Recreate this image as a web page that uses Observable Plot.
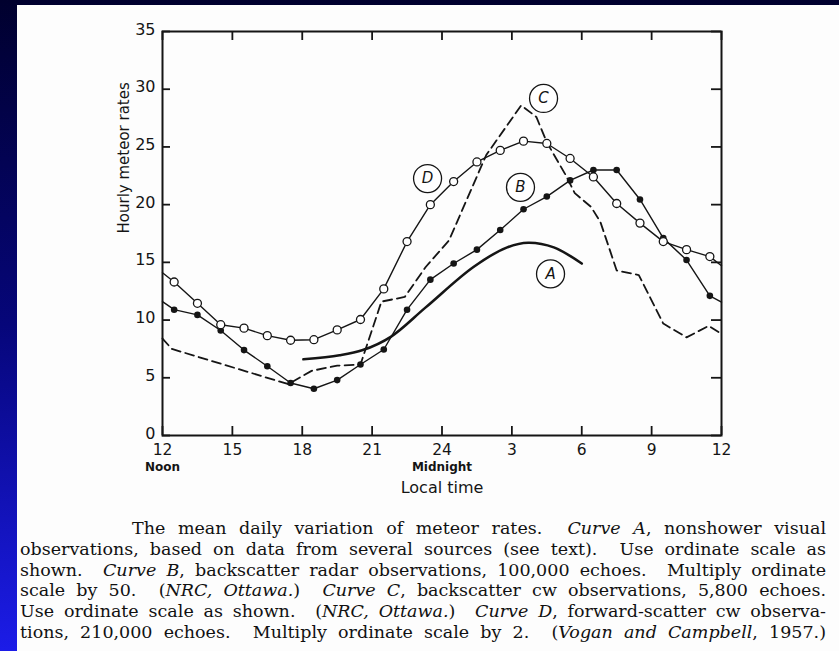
<!DOCTYPE html>
<html>
<head>
<meta charset="utf-8">
<script src="https://cdn.jsdelivr.net/npm/d3@7"></script>
<script src="https://cdn.jsdelivr.net/npm/@observablehq/plot@0.6"></script>
<style>
  html, body { margin: 0; padding: 0; }
  body {
    width: 839px; height: 651px; overflow: hidden; position: relative;
    background: linear-gradient(to bottom, #00002e 0%, #06067a 50%, #1c1ce8 100%);
  }
  .page { position: absolute; left: 17px; top: 5px; width: 822px; height: 646px; background: #fdfdfd; }
  #chart { position: absolute; left: 0; top: 0; }
  #caption {
    position: absolute; left: 20px; top: 518px; width: 806px;
    font-family: "DejaVu Serif", serif; font-size: 17.5px; color: #111;
  }
  #caption div { height: 20.8px; line-height: 20.8px; white-space: nowrap; }
  #caption div.first { padding-left: 112px; }
</style>
</head>
<body>
<div class="page"></div>
<div id="chart"></div>
<div id="caption">
  <div class="first"><span>The mean daily variation of meteor rates.&nbsp; <i>Curve A</i>, nonshower visual</span></div>
  <div><span>observations, based on data from several sources (see text).&nbsp; Use ordinate scale as</span></div>
  <div><span>shown.&nbsp; <i>Curve B</i>, backscatter radar observations, 100,000 echoes.&nbsp; Multiply ordinate</span></div>
  <div><span>scale by 50.&nbsp; (<i>NRC, Ottawa.</i>)&nbsp; <i>Curve C</i>, backscatter cw observations, 5,800 echoes.</span></div>
  <div><span>Use ordinate scale as shown.&nbsp; (<i>NRC, Ottawa.</i>)&nbsp; <i>Curve D</i>, forward-scatter cw observa-</span></div>
  <div><span>tions, 210,000 echoes.&nbsp; Multiply ordinate scale by 2.&nbsp; (<i>Vogan and Campbell</i>, 1957.)</span></div>
</div>
<script>
// ---- Data (hours counted from noon: 12 = noon, 24 = midnight, 36 = noon next day) ----
const curveAHours = [18.05, 19.6, 20.6, 21.8, 23.3, 25.35, 26.8, 27.7, 28.8, 30.0];
const curveARates = [6.6, 6.95, 7.4, 8.55, 11.1, 14.6, 16.3, 16.7, 16.3, 14.9];

const curveBHours = [12, 12.5, 13.5, 14.5, 15.5, 16.5, 17.5, 18.5, 19.5, 20.5, 21.5, 22.5, 23.5, 24.5, 25.5, 26.5, 27.5, 28.5, 29.5, 30.5, 31.5, 32.5, 33.5, 34.5, 35.5, 36];
const curveBRates = [11.6, 10.9, 10.45, 9.1, 7.4, 6.0, 4.55, 4.05, 4.8, 6.15, 7.45, 10.9, 13.5, 14.9, 16.1, 17.8, 19.6, 20.7, 22.1, 23.0, 23.0, 20.45, 17.1, 15.2, 12.1, 11.55];

const curveCHours = [12, 12.4, 17.4, 18.4, 19.5, 20.5, 21.4, 22.4, 23.3, 24.3, 25.9, 27.4, 28.05, 28.5, 29.3, 29.7, 30.4, 30.8, 31.5, 32.45, 33.5, 34.5, 35.45, 36];
const curveCRates = [8.4, 7.5, 4.45, 5.6, 6.05, 6.15, 11.6, 12.0, 14.6, 16.9, 24.3, 28.6, 27.6, 25.4, 22.6, 21.0, 19.8, 18.5, 14.3, 13.9, 9.7, 8.5, 9.5, 8.8];

const curveDHours = [12, 12.5, 13.5, 14.5, 15.5, 16.5, 17.5, 18.5, 19.5, 20.5, 21.5, 22.5, 23.5, 24.5, 25.5, 26.5, 27.5, 28.5, 29.5, 30.5, 31.5, 32.5, 33.5, 34.5, 35.5, 36];
const curveDRates = [14.1, 13.3, 11.45, 9.6, 9.3, 8.65, 8.25, 8.3, 9.15, 10.05, 12.7, 16.8, 20.0, 22.0, 23.7, 24.7, 25.5, 25.3, 24.0, 22.4, 20.1, 18.4, 16.8, 16.1, 15.5, 14.7];

const labelNames = ["A", "B", "C", "D"];
const labelHours = [28.66, 27.37, 28.36, 23.38];
const labelRates = [14.0, 21.5, 29.2, 22.26];

const xTicks = [12, 15, 18, 21, 24, 27, 30, 33, 36];
const xTickLabels = ["12", "15", "18", "21", "24", "3", "6", "9", "12"];
const yTicks = [0, 5, 10, 15, 20, 25, 30, 35];
const subLabelHours = [12, 24];
const subLabels = ["Noon", "Midnight"];
const xTitle = "Local time";
const yTitle = "Hourly meteor rates";

// ---- Build tables ----
const rows = (hs, vs) => hs.map((h, i) => ({h, v: vs[i]}));
const A = rows(curveAHours, curveARates);
const B = rows(curveBHours, curveBRates);
const C = rows(curveCHours, curveCRates);
const D = rows(curveDHours, curveDRates);
const inner = (r) => r.slice(1, -1);
const labels = labelNames.map((n, i) => ({n, h: labelHours[i], v: labelRates[i]}));
const subs = subLabels.map((s, i) => ({s, h: subLabelHours[i]}));

const W = 839, H = 512;
const mL = 162, mR = 118, mT = 31, mB = H - 435;
const pw = W - mL - mR, ph = H - mT - mB;
const ink = "#151515";
const sans = "DejaVu Sans, sans-serif";

const chart = Plot.plot({
  width: W, height: H,
  marginLeft: mL, marginRight: mR, marginTop: mT, marginBottom: mB,
  x: {domain: [12, 36], label: null},
  y: {domain: [0, 35], label: null},
  style: {background: "transparent", fontFamily: sans, color: ink, overflow: "visible"},
  marks: [
    Plot.frame({stroke: ink, strokeWidth: 2}),
    // inward ticks on all four sides
    Plot.tickX(xTicks, {x: d => d, stroke: ink, strokeWidth: 1.8, insetTop: ph - 9}),
    Plot.tickX(xTicks, {x: d => d, stroke: ink, strokeWidth: 1.8, insetBottom: ph - 9}),
    Plot.tickY(yTicks, {y: d => d, stroke: ink, strokeWidth: 1.8, insetRight: pw - 8}),
    Plot.tickY(yTicks, {y: d => d, stroke: ink, strokeWidth: 1.8, insetLeft: pw - 10}),
    Plot.axisX(xTicks, {tickSize: 0, tickPadding: 8, fontSize: 15.5, label: null,
      tickFormat: d => xTickLabels[xTicks.indexOf(d)]}),
    Plot.axisY(yTicks, {tickSize: 0, tickPadding: 7, fontSize: 16, label: null, dy: -2}),
    Plot.text(subs, {x: "h", text: "s", frameAnchor: "bottom", dy: 35, fontSize: 12, fontWeight: "bold", fill: ink}),
    Plot.text([xTitle], {frameAnchor: "bottom", dy: 57, fontSize: 16, fill: ink}),
    Plot.text([yTitle], {frameAnchor: "left", dx: -38, rotate: -90, fontSize: 15, fill: ink}),
    // curves
    Plot.line(C, {x: "h", y: "v", stroke: ink, strokeWidth: 1.8, strokeDasharray: "9,5"}),
    Plot.line(A, {x: "h", y: "v", stroke: ink, strokeWidth: 2.6, curve: "catmull-rom"}),
    Plot.line(B, {x: "h", y: "v", stroke: ink, strokeWidth: 1.4}),
    Plot.line(D, {x: "h", y: "v", stroke: ink, strokeWidth: 1.4}),
    Plot.dot(inner(B), {x: "h", y: "v", r: 3.3, fill: ink, stroke: "none"}),
    Plot.dot(inner(D), {x: "h", y: "v", r: 4, fill: "white", stroke: ink, strokeWidth: 1.3}),
    // circled curve labels
    Plot.dot(labels, {x: "h", y: "v", r: 14, fill: "white", stroke: ink, strokeWidth: 1.3}),
    Plot.text(labels, {x: "h", y: "v", text: "n", fontSize: 15, fontStyle: "italic", fill: ink})
  ]
});
document.getElementById("chart").appendChild(chart);

// justify each caption line exactly to the column width
function fitCaption() {
  document.querySelectorAll("#caption div").forEach(div => {
    const span = div.querySelector("span");
    span.style.wordSpacing = "0px";
    const cs = getComputedStyle(div);
    const target = div.clientWidth - parseFloat(cs.paddingLeft) - parseFloat(cs.paddingRight);
    const natural = span.getBoundingClientRect().width;
    const gaps = (span.textContent.match(/[ \u00a0]/g) || []).length;
    if (gaps > 0) span.style.wordSpacing = ((target - natural) / gaps) + "px";
  });
}
fitCaption();
if (document.fonts && document.fonts.ready) document.fonts.ready.then(fitCaption);
</script>
</body>
</html>
